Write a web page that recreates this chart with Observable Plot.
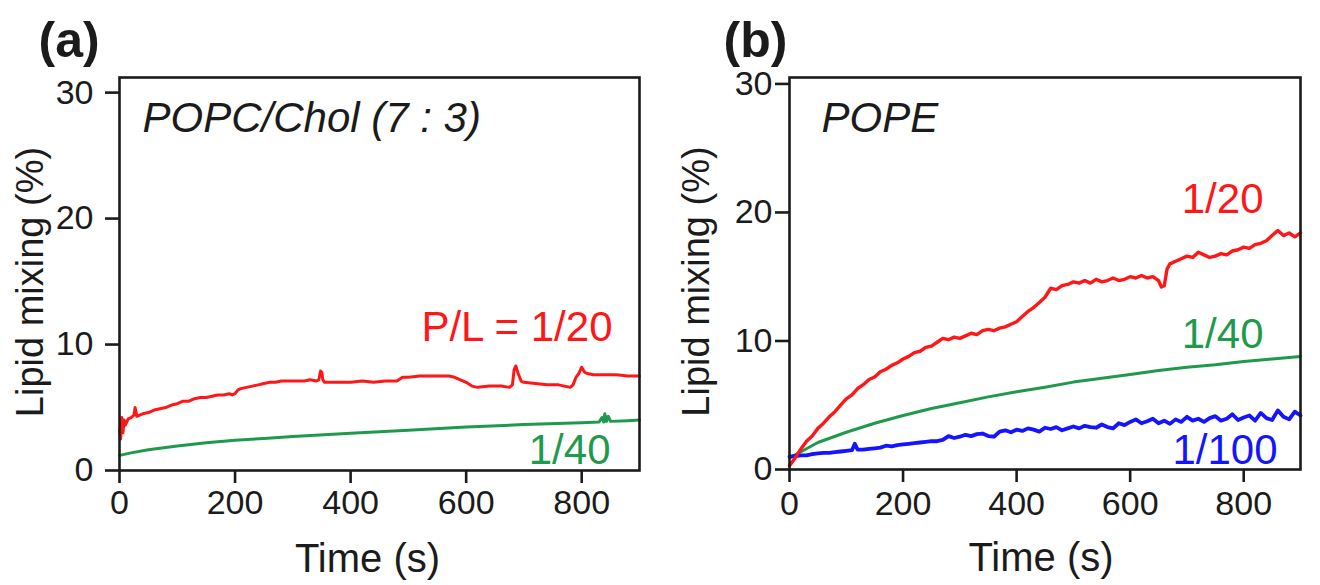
<!DOCTYPE html>
<html><head><meta charset="utf-8">
<script src="https://cdn.jsdelivr.net/npm/d3@7"></script>
<script src="https://cdn.jsdelivr.net/npm/@observablehq/plot@0.6"></script>
<style>
html,body{margin:0;padding:0;background:#fff;}
#wrap{position:relative;width:1320px;height:585px;overflow:hidden;background:#fff;}
#wrap > svg{position:absolute;top:0;}
</style></head><body><div id="wrap"></div>
<script>
// ---- tick values and texts ----
const xTicks = [0, 200, 400, 600, 800];
const yTicks = [0, 10, 20, 30];
const xLabel = "Time (s)";
const yLabel = "Lipid mixing (%)";
const panelTags = ["(a)", "(b)"];
const lipidNames = ["POPC/Chol (7 : 3)", "POPE"];
const ratioLabelsA = ["P/L = 1/20", "1/40"];
const ratioLabelsB = ["1/20", "1/40", "1/100"];

// ---- panel (a) POPC/Chol : P/L = 1/20 ----
const tA20 = [0,2,4,6,8,10,15,20,25,27,30,40,50,60,70,80,90,100,110,120,130,140,150,160,170,180,190,195,200,205,210,
  220,230,240,250,260,270,280,290,300,310,320,330,340,345,348,350,352,355,360,380,400,420,440,460,480,490,500,520,540,560,
  570,580,590,600,610,620,640,660,675,680,683,686,690,695,700,720,740,760,780,785,790,795,800,805,810,820,840,860,880,900];
const vA20 = [3.2,2.5,4.2,3.0,4.0,3.6,4.1,4.2,4.4,5.0,4.3,4.5,4.6,4.8,4.9,5.0,5.2,5.3,5.5,5.5,5.7,5.8,5.8,5.9,6.0,6.0,6.1,6.0,6.1,6.4,6.5,
  6.6,6.7,6.8,6.9,7.0,7.0,7.1,7.1,7.1,7.1,7.1,7.2,7.1,7.2,7.9,7.8,7.2,7.0,7.0,7.0,7.0,7.1,7.0,7.1,7.1,7.4,7.4,7.5,7.5,7.5,
  7.5,7.4,7.2,7.0,6.7,6.6,6.7,6.7,6.6,6.8,8.0,8.3,7.7,7.1,7.0,6.9,6.8,6.8,6.6,6.8,7.4,7.7,8.2,7.8,7.7,7.6,7.6,7.6,7.5,7.5];
// ---- panel (a) POPC/Chol : 1/40 ----
const tA40 = [0,20,50,100,150,200,250,300,400,500,600,700,800,830,835,838,840,843,846,850,880,900];
const vA40 = [1.2,1.4,1.65,1.95,2.2,2.4,2.55,2.7,2.95,3.2,3.45,3.65,3.8,3.85,4.2,3.85,4.5,3.9,4.3,3.9,3.95,4.0];

// ---- panel (b) POPE : 1/20 ----
const tB20 = [0,10,20,30,40,50,60,70,80,90,
  100,110,120,130,140,150,160,170,180,190,
  200,210,220,230,240,250,260,270,280,290,
  300,310,320,330,340,350,360,370,380,390,
  400,410,420,430,440,450,460,470,480,490,
  500,510,520,530,540,550,560,570,580,590,
  600,610,620,630,640,650,655,660,665,670,680,690,
  700,710,720,730,740,750,760,770,780,790,
  800,810,820,830,840,850,860,870,880,890,
  900];
const vB20 = [0.3,0.9,1.6,2.2,2.6,3.2,3.6,4.1,4.5,5.0,
  5.5,5.8,6.3,6.6,7.0,7.2,7.6,7.8,8.1,8.3,
  8.6,8.8,9.1,9.2,9.5,9.6,9.9,10.2,10.1,10.3,
  10.2,10.4,10.6,10.5,10.8,10.9,10.8,11.0,11.1,11.3,
  11.5,11.9,12.3,12.6,13.0,13.4,14.1,14.0,14.3,14.4,
  14.6,14.5,14.7,14.5,14.8,14.6,14.7,14.9,14.7,14.8,
  15.0,14.9,15.1,14.9,15.0,14.7,14.2,14.3,15.6,16.0,16.2,16.4,
  16.6,16.5,16.9,16.7,16.5,16.6,16.8,16.7,17.0,17.1,
  17.3,17.2,17.5,17.6,17.8,18.2,18.6,18.2,18.4,18.1,
  18.4];
// ---- panel (b) POPE : 1/40 ----
const tB40 = [0,25,50,100,150,200,250,300,350,400,450,500,550,600,650,700,750,800,850,900];
const vB40 = [0.9,1.5,2.1,2.9,3.6,4.2,4.75,5.2,5.65,6.05,6.4,6.8,7.1,7.4,7.7,7.95,8.15,8.4,8.6,8.8];
// ---- panel (b) POPE : 1/100 ----
const tB100 = [0,10,20,30,40,50,60,70,80,90,100,110,115,
  120,130,140,150,160,170,180,190,200,210,
  220,230,240,250,260,270,280,290,300,310,
  320,330,340,350,360,370,380,390,400,410,
  420,430,440,450,460,470,480,490,500,510,
  520,530,540,550,560,570,580,590,600,610,
  620,630,640,650,660,670,680,690,700,710,
  720,730,740,750,760,770,780,790,800,810,
  820,830,840,850,860,870,880,890,900];
const vB100 = [1.0,1.05,1.1,1.1,1.2,1.25,1.3,1.3,1.35,1.4,1.45,1.5,2.0,
  1.55,1.55,1.6,1.65,1.7,1.85,1.8,1.9,1.95,2.0,
  2.05,2.1,2.15,2.2,2.2,2.3,2.6,2.45,2.55,2.7,
  2.6,2.75,2.8,2.6,2.55,2.95,3.05,2.9,3.1,3.0,
  3.2,3.1,2.95,3.25,3.15,3.3,3.05,3.2,3.35,3.2,
  3.4,3.3,3.25,3.5,3.3,3.2,3.6,3.45,3.7,3.9,
  3.6,3.75,3.95,3.6,3.8,3.55,3.9,3.7,4.1,3.8,
  3.95,3.7,4.0,4.15,3.8,3.95,4.3,3.85,4.05,4.2,
  3.8,4.4,4.0,3.85,4.6,4.1,3.9,4.5,4.2];

const RED = "#ff1616", GREEN = "#1f9a4c", BLUE = "#1414ff";
const FONT = "'Liberation Sans', Arial, Helvetica, sans-serif";
const INK = "#1b1b1b";

const rows = (ts, vs) => ts.map((t, i) => ({t, v: vs[i]}));

function txt(s, o) {
  return Plot.text([s], {text: d => d, fontFamily: FONT, ...o});
}

function panel(cfg) {
  const marks = [
    ...cfg.series.map(s => Plot.line(rows(s.t, s.v), {x: "t", y: "v", stroke: s.color, strokeWidth: s.w, strokeLinejoin: "round"})),
    Plot.frame({stroke: INK, strokeWidth: 2.6}),
    Plot.axisX({ticks: xTicks, tickSize: 13, tickPadding: cfg.xPad, fontSize: 34, label: null, strokeWidth: 2.6, stroke: INK}),
    Plot.axisY({ticks: yTicks, tickSize: 14, tickPadding: cfg.yPad, fontSize: 34, label: null, strokeWidth: 2.6, stroke: INK}),
    txt(yLabel, {frameAnchor: "left", rotate: -90, dx: -cfg.yLabelOff, dy: 8, textAnchor: "middle", lineAnchor: "top", fontSize: 38, fill: INK}),
    txt(xLabel, {frameAnchor: "bottom", dx: cfg.xLabelDx, dy: 101, textAnchor: "middle", lineAnchor: "bottom", fontSize: 40, fill: INK}),
    txt(cfg.tag, {frameAnchor: "top-left", dx: cfg.tagDx, dy: -21, textAnchor: "start", lineAnchor: "bottom", fontSize: 50, fontWeight: "bold", fill: INK}),
    txt(cfg.name, {frameAnchor: "top-left", dx: cfg.nameDx, dy: 54, textAnchor: "start", lineAnchor: "bottom", fontSize: 42, fontStyle: "italic", fill: INK}),
    ...cfg.notes.map(n => txt(n.s, {frameAnchor: n.anchor, dx: n.dx, dy: n.dy, textAnchor: "end", lineAnchor: "bottom", fontSize: 42, fill: n.color}))
  ];
  const svg = Plot.plot({
    width: 660, height: 585,
    marginLeft: cfg.mL, marginRight: cfg.mR, marginTop: 77, marginBottom: cfg.mB,
    x: {domain: [0, 900]},
    y: {domain: [0, cfg.yMax]},
    style: {fontFamily: FONT, color: INK, background: "transparent", overflow: "visible"},
    marks
  });
  svg.style.left = cfg.left + "px";
  document.getElementById("wrap").appendChild(svg);
}

panel({
  left: 0, mL: 119, mR: 21, mB: 115, yMax: 31.2, xPad: 6, yPad: 12,
  yLabelOff: 103, xLabelDx: -12, tag: panelTags[0], tagDx: -81, name: lipidNames[0], nameDx: 23,
  series: [
    {t: tA40, v: vA40, color: GREEN, w: 3},
    {t: tA20, v: vA20, color: RED, w: 3}
  ],
  notes: [
    {s: ratioLabelsA[0], color: RED, anchor: "top-right", dx: -27, dy: 263},
    {s: ratioLabelsA[1], color: GREEN, anchor: "bottom-right", dx: -29, dy: -7}
  ]
});

panel({
  left: 660, mL: 129, mR: 20, mB: 116, yMax: 30.5, xPad: 8, yPad: 3,
  yLabelOff: 107, xLabelDx: -4, tag: panelTags[1], tagDx: -66, name: lipidNames[1], nameDx: 32,
  series: [
    {t: tB40, v: vB40, color: GREEN, w: 3},
    {t: tB100, v: vB100, color: BLUE, w: 3.8},
    {t: tB20, v: vB20, color: RED, w: 3.4}
  ],
  notes: [
    {s: ratioLabelsB[0], color: RED, anchor: "top-right", dx: -37, dy: 135},
    {s: ratioLabelsB[1], color: GREEN, anchor: "top-right", dx: -37, dy: 270},
    {s: ratioLabelsB[2], color: BLUE, anchor: "bottom-right", dx: -23, dy: -6}
  ]
});
</script></body></html>
